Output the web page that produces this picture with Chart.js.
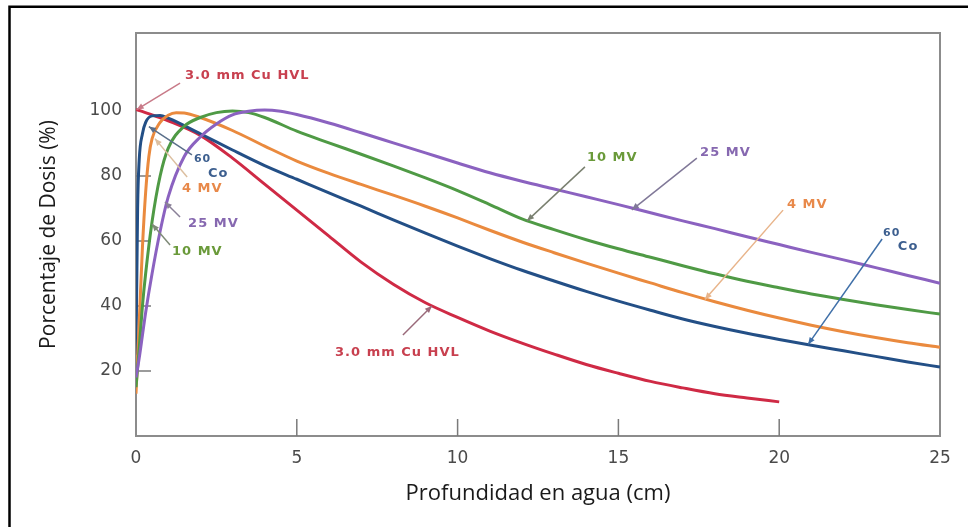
<!DOCTYPE html>
<html><head><meta charset="utf-8">
<script src="https://cdn.jsdelivr.net/npm/chart.js@4"></script>
<style>html,body{margin:0;padding:0;background:#fff}canvas{display:block}</style>
</head><body>
<canvas id="c" width="968" height="527"></canvas>
<script>
// ---- data (depth in cm, percent depth dose) ----
const depthHVL = [0,0.5,1,2,3,4,5,6,7,8,9,10,11,12,13,14,15,16,17,18,19,20];
const doseHVL  = [100.5,98.8,97,92.5,85.5,77.5,69.5,61.5,53.5,46.7,41,36.5,32.3,28.6,25.2,22,19.3,16.8,14.8,13,11.7,10.5];

const depthCo = [0,0.05,0.1,0.2,0.3,0.5,0.75,1,2,3,4,5,6,7,8,9,10,11,12,13,14,15,16,17,18,19,20,21,22,23,24,25];
const doseCo  = [25,70,85,93,96.5,98.5,98.6,97.8,93,88,83.2,79,74.8,70.7,66.5,62.4,58.4,54.6,51,47.7,44.5,41.5,38.7,36,33.7,31.6,29.7,27.9,26.2,24.5,22.8,21.2];

const depth4MV = [0,0.1,0.2,0.3,0.4,0.5,0.75,1,1.25,1.5,2,3,4,5,6,7,8,9,10,11,12,13,14,15,16,17,18,19,20,21,22,23,24,25];
const dose4MV  = [13,35,58,75,86,91.5,96.5,98.7,99.5,99.4,98,94,89.2,84.6,80.8,77.4,74.1,70.7,67.1,63.3,59.7,56.4,53.2,50.1,47.1,44.1,41.3,38.7,36.3,34.1,32.1,30.3,28.7,27.3];

const depth10MV = [0,0.1,0.2,0.3,0.5,0.75,1,1.5,2,2.5,3,3.5,4,5,6,7,8,9,10,11,12,13,14,15,16,17,18,19,20,21,22,23,24,25];
const dose10MV  = [15,27,40,50,66,80,88.5,95.3,98,99.5,100,99.5,98,93.8,90.2,86.7,83.1,79.4,75.5,71.2,66.8,63.5,60.4,57.6,55,52.4,49.9,47.6,45.6,43.7,42,40.4,38.9,37.5];

const depth25MV = [0,0.1,0.2,0.3,0.5,0.75,1,1.5,2,2.5,3,3.5,4,4.5,5,6,7,8,9,10,11,12,13,14,15,16,17,18,19,20,21,22,23,24,25];
const dose25MV  = [18,24,31,38,50,63,73.5,86,92,96,98.8,99.9,100.3,99.9,98.9,96.3,93.3,90.2,87.1,84,81,78.4,76,73.6,71.2,68.7,66.2,63.8,61.3,58.9,56.5,54.2,51.8,49.4,47];

const xTickLabels = [0,5,10,15,20,25];
const yTickLabels = [20,40,60,80,100];
const xTitle = 'Profundidad en agua (cm)';
const yTitle = 'Porcentaje de Dosis (%)';

// annotation labels (in data units: cm, %)
const labels = [
  {t:'3.0 mm Cu HVL', x:1.52, y:110.8, c:'#c8404f', ax:[1.37,108.6,0.02,100.4], lc:'#c87a88'},
  {t:'60', x:1.80, y:85.2, c:'#3d5f8f', small:true, ax:[1.74,86.5,0.40,95.2], lc:'#5a6f8a'},
  {t:'Co', x:2.24, y:80.6, c:'#3d5f8f'},
  {t:'4 MV', x:1.43, y:76.2, c:'#e8894a', ax:[1.59,79.7,0.59,91.5], lc:'#dcbfa0'},
  {t:'25 MV', x:1.62, y:65.5, c:'#8668b0', ax:[1.37,67.4,0.90,72.0], lc:'#8a8098'},
  {t:'10 MV', x:1.12, y:56.6, c:'#6a9a3a', ax:[1.06,58.8,0.50,65.2], lc:'#7f8a78'},
  {t:'10 MV', x:14.02, y:85.8, c:'#6a9a3a', ax:[13.96,82.8,12.16,66.2], lc:'#7a8070'},
  {t:'25 MV', x:17.54, y:87.1, c:'#8668b0', ax:[17.44,85.5,15.42,69.6], lc:'#807898'},
  {t:'4 MV', x:20.24, y:71.1, c:'#e8894a', ax:[20.12,69.5,17.69,42.0], lc:'#e8b48a'},
  {t:'60', x:23.23, y:62.5, c:'#3d5f8f', small:true, ax:[23.2,60.6,20.9,28.2], lc:'#3f6fa8'},
  {t:'Co', x:23.69, y:58.2, c:'#3d5f8f'},
  {t:'3.0 mm Cu HVL', x:6.19, y:25.8, c:'#c8404f', ax:[8.30,31.1,9.2,40.0], lc:'#9a6a7a'}
];

function pts(xs, ys){ return xs.map((x,i)=>({x:x, y:ys[i]})); }
function ds(xs, ys, color){
  return {data: pts(xs, ys), borderColor: color, borderWidth: 3, pointRadius: 0,
          fill: false, cubicInterpolationMode: 'monotone'};
}

const decor = {
  id: 'decor',
  beforeDatasetsDraw(chart){
    const ctx = chart.ctx, a = chart.chartArea, xs = chart.scales.x, ys = chart.scales.y;
    ctx.save();
    ctx.strokeStyle = '#8c8c8c'; ctx.lineWidth = 2;
    ctx.strokeRect(a.left, a.top, a.right - a.left, a.bottom - a.top);
    ctx.strokeStyle = '#7a7a7a'; ctx.lineWidth = 1.5;
    xTickLabels.forEach(v => { if (v > 0 && v < 25) { const px = xs.getPixelForValue(v);
      ctx.beginPath(); ctx.moveTo(px, a.bottom); ctx.lineTo(px, a.bottom - 17); ctx.stroke(); }});
    yTickLabels.forEach(v => { if (v < 100) { const py = ys.getPixelForValue(v);
      ctx.beginPath(); ctx.moveTo(a.left, py); ctx.lineTo(a.left + 15, py); ctx.stroke(); }});
    ctx.restore();
  },
  afterDraw(chart){
    const ctx = chart.ctx, xs = chart.scales.x, ys = chart.scales.y;
    ctx.save();
    labels.forEach(l => {
      if (l.ax) {
        const x1 = xs.getPixelForValue(l.ax[0]), y1 = ys.getPixelForValue(l.ax[1]);
        const x2 = xs.getPixelForValue(l.ax[2]), y2 = ys.getPixelForValue(l.ax[3]);
        ctx.strokeStyle = l.lc; ctx.fillStyle = l.lc; ctx.lineWidth = 1.5;
        ctx.beginPath(); ctx.moveTo(x1, y1); ctx.lineTo(x2, y2); ctx.stroke();
        const ang = Math.atan2(y2 - y1, x2 - x1), L = 7, W = 3;
        ctx.beginPath();
        ctx.moveTo(x2, y2);
        ctx.lineTo(x2 - L*Math.cos(ang) + W*Math.sin(ang), y2 - L*Math.sin(ang) - W*Math.cos(ang));
        ctx.lineTo(x2 - L*Math.cos(ang) - W*Math.sin(ang), y2 - L*Math.sin(ang) + W*Math.cos(ang));
        ctx.closePath(); ctx.fill();
      }
      ctx.fillStyle = l.c;
      ctx.font = (l.small ? 'bold 11px' : 'bold 13px') + ' "DejaVu Sans", sans-serif';
      ctx.letterSpacing = '1px';
      ctx.textAlign = 'left'; ctx.textBaseline = 'middle';
      ctx.fillText(l.t, xs.getPixelForValue(l.x), ys.getPixelForValue(l.y));
    });
    ctx.letterSpacing = '0px';
    // outer frame
    ctx.strokeStyle = '#000'; ctx.lineWidth = 2.5;
    ctx.beginPath(); ctx.moveTo(9.5, 527); ctx.lineTo(9.5, 6.7); ctx.lineTo(968, 6.7); ctx.stroke();
    ctx.restore();
  }
};

new Chart(document.getElementById('c'), {
  type: 'line',
  data: { datasets: [
    ds(depth25MV, dose25MV, '#8b62c0'),
    ds(depth10MV, dose10MV, '#4f9a45'),
    ds(depth4MV, dose4MV, '#ea8a3e'),
    ds(depthCo, doseCo, '#234f86'),
    ds(depthHVL, doseHVL, '#cf2a45')
  ]},
  options: {
    responsive: false, animation: false, devicePixelRatio: 1,
    layout: { padding: { top: 33, right: 28, left: 0, bottom: 0 } },
    plugins: { legend: { display: false }, tooltip: { enabled: false } },
    scales: {
      x: {
        type: 'linear', min: 0, max: 25,
        afterFit(s){ s.height = 91; },
        afterBuildTicks(s){ s.ticks = xTickLabels.map(v => ({value: v})); },
        grid: { display: false, drawTicks: false }, border: { display: false },
        ticks: { padding: 12, color: '#4a4a4a', font: { family: '"DejaVu Sans"', size: 17 },
                 callback: v => String(v) },
        title: { display: true, text: xTitle, color: '#1a1a1a',
                 font: { family: '"Open Sans"', size: 22 }, padding: { top: 0, bottom: 20 } }
      },
      y: {
        type: 'linear', min: 0, max: 124,
        afterFit(s){ s.width = 136; },
        afterBuildTicks(s){ s.ticks = yTickLabels.map(v => ({value: v})); },
        grid: { display: false, drawTicks: false }, border: { display: false },
        ticks: { padding: 14, color: '#4a4a4a', font: { family: '"DejaVu Sans"', size: 17 },
                 callback: v => String(v) },
        title: { display: true, text: yTitle, color: '#1a1a1a',
                 font: { family: '"Open Sans"', size: 21 }, padding: { top: 36, bottom: 0 } }
      }
    }
  },
  plugins: [decor]
});
</script>
</body></html>
